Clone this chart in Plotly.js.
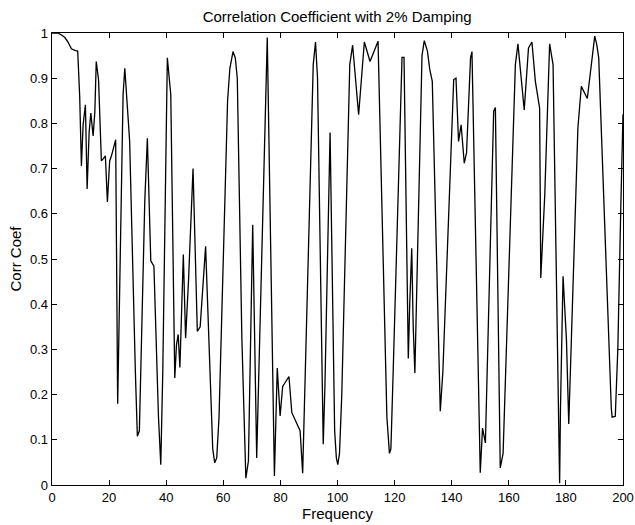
<!DOCTYPE html>
<html>
<head>
<meta charset="utf-8">
<script src="https://cdn.plot.ly/plotly-3.0.1.min.js"></script>
<style>html,body{margin:0;padding:0;background:#fff;}#chart{width:635px;height:525px;}</style>
</head>
<body>
<div id="chart"></div>
<script>
var frequency = [0, 2, 3.5, 4.5, 5.6, 6.8, 8.2, 9.0, 9.7, 10.3, 10.9, 11.7, 12.3, 13.0, 13.6, 14.4, 15.0, 15.5, 16.3, 17.3, 18.0, 18.7, 19.4, 20.2, 20.9, 22.0, 22.3, 23.0, 23.5, 24.9, 25.5, 25.8, 27.2, 29.2, 29.9, 30.6, 32.5, 33.4, 34.6, 35.7, 37.3, 38.1, 38.8, 40.4, 41.6, 43.0, 43.6, 44.2, 44.8, 46.0, 46.8, 47.8, 49.4, 50.9, 51.9, 53.8, 55.5, 56.3, 57.0, 57.7, 58.5, 60.2, 61.5, 62.3, 63.4, 64.2, 64.9, 66.5, 67.9, 68.8, 70.3, 71.7, 75.4, 77.9, 78.9, 79.9, 80.8, 83.0, 84.0, 86.9, 87.8, 91.5, 92.3, 93.0, 95.0, 95.6, 97.4, 99.0, 99.6, 100.1, 100.7, 101.5, 104.3, 105.3, 107.4, 109.4, 111.4, 114.2, 117.3, 118.2, 118.7, 119.5, 122.6, 123.3, 124.8, 125.3, 126.0, 126.5, 127.1, 129.6, 130.4, 131.5, 132.3, 133.2, 135.3, 136.0, 136.9, 140.7, 141.5, 142.4, 143.3, 144.4, 145.2, 146.6, 147.1, 150.0, 150.8, 151.8, 154.7, 155.3, 157.0, 158.0, 162.3, 163.2, 165.4, 166.9, 168.1, 169.3, 170.8, 171.2, 172.6, 174.3, 175.5, 177.8, 178.1, 179.0, 180.2, 181.0, 184.2, 185.4, 187.5, 188.2, 189.5, 190.1, 190.8, 191.5, 195.9, 196.2, 197.3, 198.2, 199.2, 199.8, 200];
var corrCoef = [1.0, 1.0, 0.995, 0.99, 0.98, 0.965, 0.961, 0.96, 0.86, 0.706, 0.797, 0.841, 0.655, 0.78, 0.823, 0.772, 0.825, 0.937, 0.897, 0.717, 0.722, 0.728, 0.626, 0.717, 0.73, 0.753, 0.764, 0.18, 0.35, 0.864, 0.922, 0.89, 0.76, 0.25, 0.108, 0.12, 0.628, 0.767, 0.496, 0.484, 0.15, 0.045, 0.25, 0.945, 0.864, 0.237, 0.31, 0.333, 0.26, 0.51, 0.325, 0.45, 0.70, 0.34, 0.35, 0.528, 0.2, 0.08, 0.049, 0.06, 0.15, 0.568, 0.85, 0.922, 0.959, 0.945, 0.90, 0.325, 0.015, 0.053, 0.576, 0.06, 0.99, 0.02, 0.259, 0.153, 0.218, 0.24, 0.16, 0.12, 0.026, 0.93, 0.98, 0.9, 0.09, 0.22, 0.78, 0.12, 0.06, 0.045, 0.07, 0.2, 0.93, 0.973, 0.819, 0.98, 0.937, 0.982, 0.15, 0.07, 0.08, 0.25, 0.946, 0.946, 0.28, 0.40, 0.524, 0.354, 0.248, 0.95, 0.983, 0.96, 0.92, 0.893, 0.3, 0.163, 0.25, 0.897, 0.90, 0.76, 0.797, 0.712, 0.735, 0.945, 0.959, 0.027, 0.126, 0.093, 0.827, 0.835, 0.038, 0.07, 0.93, 0.976, 0.83, 0.967, 0.98, 0.893, 0.834, 0.458, 0.642, 0.976, 0.93, 0.004, 0.17, 0.462, 0.32, 0.135, 0.79, 0.882, 0.855, 0.89, 0.965, 0.993, 0.975, 0.945, 0.17, 0.15, 0.152, 0.303, 0.606, 0.805, 0.82];
var xTicks = [0, 20, 40, 60, 80, 100, 120, 140, 160, 180, 200];
var yTicks = [0, 0.1, 0.2, 0.3, 0.4, 0.5, 0.6, 0.7, 0.8, 0.9, 1];
var yTickText = ['0', '0.1', '0.2', '0.3', '0.4', '0.5', '0.6', '0.7', '0.8', '0.9', '1'];

var tickFont = {family: 'Liberation Sans, Arial, sans-serif', size: 13, color: '#000'};
var labelFont = {family: 'Liberation Sans, Arial, sans-serif', size: 15, color: '#000'};
var titleFont = {family: 'Liberation Sans, Arial, sans-serif', size: 15, color: '#000'};
var trace = {x: frequency, y: corrCoef, type: 'scatter', mode: 'lines',
  line: {color: '#000', width: 1.3}, hoverinfo: 'skip'};
var axisCommon = {showgrid: false, zeroline: false, showline: true, mirror: 'ticks',
  linecolor: '#000', linewidth: 1.3, ticks: 'inside', ticklen: 5, tickcolor: '#000', tickfont: tickFont};
var layout = {
  width: 635, height: 525,
  margin: {l: 52, r: 12, t: 33, b: 40},
  paper_bgcolor: '#fff', plot_bgcolor: '#fff',
  font: tickFont,
  showlegend: false,
  title: {text: 'Correlation Coefficient with 2% Damping', font: titleFont, x: 0.531, xanchor: 'center', y: 0.968, yanchor: 'middle'},
  xaxis: Object.assign({}, axisCommon, {range: [0, 200], tickvals: xTicks, ticktext: xTicks.map(String),
    title: {text: 'Frequency', font: labelFont, standoff: 2}}),
  yaxis: Object.assign({}, axisCommon, {range: [0, 1], tickvals: yTicks, ticktext: yTickText,
    title: {text: 'Corr Coef', font: labelFont, standoff: 4}})
};
Plotly.newPlot('chart', [trace], layout, {displayModeBar: false, staticPlot: true});
</script>
</body>
</html>
